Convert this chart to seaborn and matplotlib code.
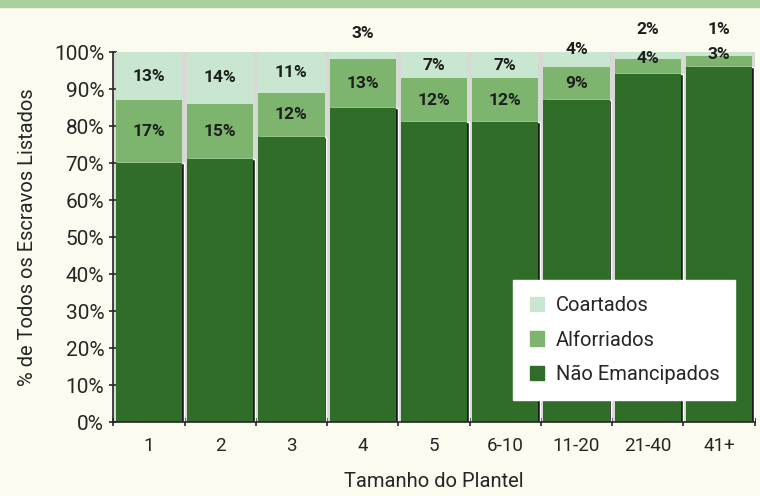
import numpy as np
import pandas as pd
import seaborn as sns
import matplotlib.pyplot as plt
from matplotlib.patches import Patch, Rectangle

categories = ["1", "2", "3", "4", "5", "6-10", "11-20", "21-40", "41+"]
nao_emancipados = [70, 71, 77, 85, 81, 81, 87, 94, 96]
alforriados = [17, 15, 12, 13, 12, 12, 9, 4, 3]
coartados = [13, 14, 11, 3, 7, 7, 4, 2, 1]

# label positions for small segments that do not fit inside (in % units)
coart_label_y = [None, None, None, 105, None, None, 100.8, 106, 106]
alforr_label_y = [None, None, None, None, None, None, None, 98.2, 99.3]

c_dark = "#2f6d28"
c_mid = "#7db56e"
c_light = "#c9e7d0"
c_gap = "#d6d9d4"
bg = "#fbfbef"

sns.set_style("ticks")
plt.rcParams["font.family"] = ["Roboto", "DejaVu Sans"]

df = pd.DataFrame({
    "tamanho": categories,
    "nao": nao_emancipados,
    "alf": alforriados,
    "coart": coartados,
})
df["nao_alf"] = df["nao"] + df["alf"]
df["total"] = (df["nao_alf"] + df["coart"]).clip(upper=100)

fig = plt.figure(figsize=(7.6, 4.96), dpi=100, facecolor=bg)
ax = fig.add_axes([0.149, 0.149, 0.844, 0.746])
ax.set_facecolor(c_gap)

w = 0.93
x = np.arange(len(categories))
sns.barplot(data=df, x="tamanho", y="total", color=c_light, width=w,
            saturation=1, ax=ax, edgecolor="none")
sns.barplot(data=df, x="tamanho", y="nao_alf", color=c_mid, width=w,
            saturation=1, ax=ax, edgecolor="none")
# dark shadow on the right edge of the dark segment
ax.bar(x + 0.025, df["nao"], width=w, color="#1b1b1b")
sns.barplot(data=df, x="tamanho", y="nao", color=c_dark, width=w,
            saturation=1, ax=ax, edgecolor="none")

lab_kw = dict(ha="center", va="center", fontsize=12.5, fontweight="bold",
              color="#1e1e1e", zorder=5, clip_on=False)
for i in range(len(categories)):
    yc = coart_label_y[i] if coart_label_y[i] is not None else df["nao_alf"][i] + coartados[i] / 2
    ax.text(i, yc, f"{coartados[i]}%", **lab_kw)
    ya = alforr_label_y[i] if alforr_label_y[i] is not None else nao_emancipados[i] + alforriados[i] / 2
    ax.text(i, ya, f"{alforriados[i]}%", **lab_kw)

ax.set_ylim(0, 100)
ax.set_xlim(-0.5, len(categories) - 0.5)
ax.set_yticks(range(0, 101, 10))
ax.set_yticklabels([f"{v}%" for v in range(0, 101, 10)])
ax.set_xticks(np.arange(len(categories) + 1) - 0.5)
ax.set_xticklabels([])
ax.set_xticks(x, minor=True)
ax.set_xticklabels(categories, minor=True)
ax.tick_params(axis="x", which="minor", length=0, pad=11, labelsize=13.5)
ax.tick_params(axis="x", which="major", length=6, width=1.2, direction="inout")
ax.tick_params(axis="y", length=6, width=1.2, labelsize=15, direction="inout")

for s in ["top", "right"]:
    ax.spines[s].set_visible(False)
ax.spines["left"].set_linewidth(1.2)
ax.spines["bottom"].set_linewidth(1.2)

ax.set_xlabel("Tamanho do Plantel", fontsize=14.5, labelpad=12)
ax.set_ylabel("% de Todos os Escravos Listados", fontsize=14.5, labelpad=12)

handles = [Patch(color=c_light, label="Coartados"),
           Patch(color=c_mid, label="Alforriados"),
           Patch(color=c_dark, label="Não Emancipados")]
leg = ax.legend(handles=handles, loc="lower right", bbox_to_anchor=(0.97, 0.06),
                frameon=True, fancybox=False, fontsize=14.5, handlelength=0.7,
                handleheight=0.7, labelspacing=0.75, borderpad=0.8,
                handletextpad=0.6, borderaxespad=0)
leg.get_frame().set_facecolor("white")
leg.get_frame().set_edgecolor("white")
leg.get_frame().set_alpha(1)
leg.set_zorder(10)

# thin green page band at the top of the scan
fig.patches.append(Rectangle((0, 0.985), 1, 0.015, transform=fig.transFigure,
                             color="#a9cf9d", zorder=0))

fig.savefig("out.png", dpi=100, facecolor=bg)
